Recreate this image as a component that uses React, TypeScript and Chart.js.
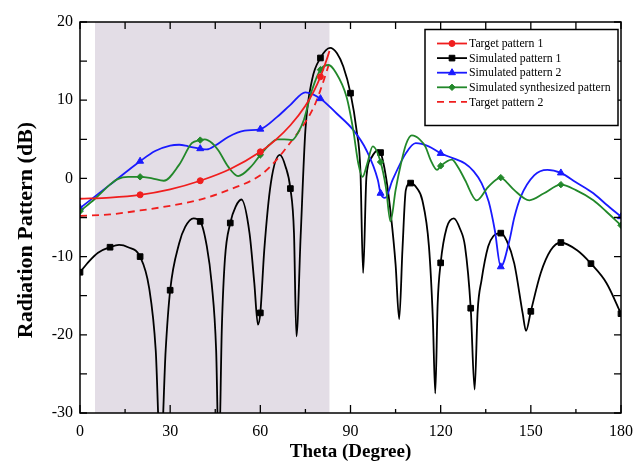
import React, { useEffect, useRef } from "react";
import { Chart, registerables } from "chart.js";
import { drawPoint } from "chart.js/helpers";

Chart.register(...registerables);

// ---------- data ----------
const xTickStep = 30;
const yTickStep = 10;
const xRange = [0, 180];
const yRange = [-30, 20];
const shadeRange = [5, 83];

const legendLabels = [
  "Target pattern 1",
  "Simulated pattern 1",
  "Simulated pattern 2",
  "Simulated synthesized pattern",
  "Target pattern 2",
];

// Target pattern 1 (red solid)
const target1Theta = [0, 10, 20, 30, 40, 50, 60, 65, 70, 75, 78, 80, 82, 83];
const target1Db = [-2.6, -2.45, -2.1, -1.4, -0.3, 1.2, 3.4, 4.9, 6.8, 9.3, 11.3, 13, 15.1, 16.3];
const target1Markers = [20, 40, 60, 80];

// Target pattern 2 (red dashed)
const target2Theta = [0, 10, 20, 30, 40, 50, 60, 65, 70, 75, 78, 80, 82, 83];
const target2Db = [-4.8, -4.6, -4.1, -3.5, -2.7, -1.4, 0.4, 2.2, 4.6, 7.2, 9.3, 11.3, 13.6, 14.8];

// Simulated pattern 1 (black)
const sim1Theta = [
  0, 3, 6, 10, 13, 16, 20, 23, 25.2, 26.8, 28.5, 30, 33, 35, 37.8, 40, 42.2, 43.8, 45.3, 46.2,
  47.2, 48.2, 50, 51.8, 53.7, 56.4, 58, 59.2, 60, 61.3, 63.5, 66.5, 68.4, 70, 71.2, 72, 73.4, 75,
  77.2, 80, 83.2, 85.5, 87.6, 90, 92, 93.3, 94.2, 95.3, 96.9, 99, 100, 101.8, 103.5, 105, 106.2,
  107.3, 108.4, 110, 112, 113.9, 116.1, 117.4, 118.2, 119, 120, 122, 124.4, 126.5, 128.1, 130,
  131.3, 132.3, 133.6, 135.8, 137.5, 140, 142, 144.5, 147.3, 148.4, 150, 153.3, 156.6, 160, 165.4,
  170, 175.2, 180,
];
const sim1Db = [
  -12, -10.6, -9.5, -8.8, -8.5, -8.8, -10, -14, -22, -36, -22, -14.3, -8.3, -6.2, -5.1, -5.5, -8.7,
  -13.4, -22, -36, -19, -10.4, -5.7, -3.6, -2.7, -7, -13.4, -18.7, -17.2, -9.2, -0.6, 3.0, 1.5, -1.3,
  -7, -20.2, -7.5, 6.2, 12.6, 15.4, 16.7, 16, 14.3, 10.9, 6.2, 1, -12.1, 0.2, 2.6, 3.6, 3.3, 0.2,
  -4.9, -11, -18, -9, -1.5, -0.6, -1.2, -2.8, -8.7, -18, -27.5, -16, -10.8, -6.3, -5.1, -6.5, -8.7,
  -16.6, -27, -17, -13, -8.7, -7.4, -7.0, -8.0, -10.9, -17.3, -19.5, -17, -12.1, -9.2, -8.2, -9.2,
  -10.9, -13.4, -17.3,
];
const sim1Markers = [0, 10, 20, 30, 40, 50, 60, 70, 80, 90, 100, 110, 120, 130, 140, 150, 160, 170, 180];

// Simulated pattern 2 (blue)
const sim2Theta = [
  0, 10, 20, 25, 30, 33, 36, 40, 42.2, 45, 49.3, 54.8, 60, 65.7, 70, 75, 80, 85.4, 90.9, 95.3,
  99.1, 100, 101.5, 104, 108.4, 111.7, 116, 120, 124, 128.1, 131, 133.6, 136, 138, 140, 142.9,
  144.5, 146.7, 151.1, 155.5, 160, 165, 170.8, 175, 180,
];
const sim2Db = [
  -3.8, -0.8, 2.2, 3.5, 4.2, 4.3, 4.1, 3.8, 3.7, 4.2, 5.3, 6.1, 6.3, 7.9, 9.4, 11.0, 10.2, 8.3,
  6.2, 3.6, -0.2, -1.9, -2.5, -0.2, 3.2, 4.5, 4.1, 3.2, 2.6, 1.9, 0.9, -0.6, -3, -6.6, -11.3,
  -7.9, -5, -2.3, 0.4, 1.1, 0.7, -0.5, -1.9, -3.3, -4.9,
];
const sim2Markers = [0, 20, 40, 60, 80, 100, 120, 140, 160, 180];

// Simulated synthesized pattern (green)
const synthTheta = [
  0, 5, 10, 12.5, 16, 20, 24, 27.9, 32.9, 37.2, 40, 41.5, 44, 46, 49.3, 52.6, 56.9, 60, 63, 65.7,
  68, 70.6, 72.5, 74.5, 77.2, 80, 82.7, 85, 88.7, 90.9, 92.6, 94, 95.5, 97.4, 100, 101.8, 103.3,
  105, 106.8, 108.5, 110.4, 113, 115, 116.6, 118.8, 120, 123.7, 126, 128.1, 132, 135.8, 140, 142,
  144.5, 149.5, 154.4, 160, 165, 170.8, 175, 180,
];
const synthDb = [
  -4.2, -2.6, -0.8, -0.1, 0.2, 0.2, 0.0, -0.3, 1.7, 4.5, 4.9, 5.0, 4.5, 3.6, 1.5, 0.3, 1.5, 3.0,
  4.3, 5.0, 5.0, 4.9, 5.8, 7.5, 11.3, 13.9, 14.5, 13.6, 10.4, 6.2, 1.9, 0.2, 1.8, 4.1, 2.1, -1.2,
  -5.5, -1.5, 1.9, 4.4, 5.5, 5.0, 4.0, 2.4, 1.1, 1.6, 2.4, 1.3, -0.2, -2.8, -1.1, 0.1, -0.5, -1.5,
  -2.8, -1.9, -0.8, -1.5, -2.8, -4.2, -6.0,
];
const synthMarkers = [0, 20, 40, 60, 80, 100, 120, 140, 160, 180];

// ---------- styles ----------
const RED = "#f01e1e";
const BLACK = "#000000";
const BLUE = "#1a1aff";
const GREEN = "#22882a";
const SHADE = "rgb(227,221,230)";
const FONT = "'Liberation Serif', 'Times New Roman', serif";

function series(
  label: string,
  xs: number[],
  ys: number[],
  markers: number[],
  color: string,
  pointStyle: any,
  radius: number,
  dash: number[] = []
) {
  const mk = new Set(markers);
  return {
    label,
    data: xs.map((x, i) => ({ x, y: ys[i] })),
    borderColor: color,
    backgroundColor: color,
    borderWidth: 1.8,
    borderDash: dash,
    pointStyle,
    pointRadius: (c: any) => (mk.has(xs[c.dataIndex]) ? radius : 0),
    pointHoverRadius: 0,
    pointBorderWidth: 1,
    pointBorderColor: color,
    pointBackgroundColor: color,
    cubicInterpolationMode: "monotone",
    fill: false,
  };
}

const legendStyles = [
  { color: RED, style: "circle", radius: 3, dash: [] as number[], marker: true },
  { color: BLACK, style: "rect", radius: 4, dash: [] as number[], marker: true },
  { color: BLUE, style: "triangle", radius: 4, dash: [] as number[], marker: true },
  { color: GREEN, style: "rectRot", radius: 3.2, dash: [] as number[], marker: true },
  { color: RED, style: "circle", radius: 0, dash: [7, 5], marker: false },
];

const decorPlugin = {
  id: "decor",
  beforeDatasetsDraw(chart: any) {
    const { ctx, chartArea: a, scales } = chart;
    const x0 = scales.x.getPixelForValue(shadeRange[0]);
    const x1 = scales.x.getPixelForValue(shadeRange[1]);
    ctx.save();
    ctx.fillStyle = SHADE;
    ctx.fillRect(x0, a.top, x1 - x0, a.bottom - a.top);
    ctx.restore();
  },
  afterDatasetsDraw(chart: any) {
    const { ctx, chartArea: a, scales } = chart;
    const xs = scales.x;
    const ys = scales.y;
    ctx.save();
    ctx.strokeStyle = "#000";
    ctx.lineWidth = 1.5;
    ctx.strokeRect(a.left, a.top, a.right - a.left, a.bottom - a.top);
    ctx.lineWidth = 1.3;
    ctx.beginPath();
    for (let v = xRange[0]; v <= xRange[1]; v += xTickStep / 2) {
      const px = xs.getPixelForValue(v);
      const major = v % xTickStep === 0;
      ctx.moveTo(px, a.bottom);
      ctx.lineTo(px, a.bottom - (major ? 8 : 4));
      ctx.moveTo(px, a.top);
      ctx.lineTo(px, a.top + 7);
    }
    for (let v = yRange[0]; v <= yRange[1]; v += yTickStep / 2) {
      const py = ys.getPixelForValue(v);
      ctx.moveTo(a.left, py);
      ctx.lineTo(a.left + 7, py);
      ctx.moveTo(a.right, py);
      ctx.lineTo(a.right - 7, py);
    }
    ctx.stroke();

    // axis titles
    ctx.fillStyle = "#000";
    ctx.font = `bold 19px ${FONT}`;
    ctx.textAlign = "center";
    ctx.textBaseline = "middle";
    ctx.fillText("Theta (Degree)", (a.left + a.right) / 2, 452);
    ctx.save();
    ctx.translate(26, 230);
    ctx.rotate(-Math.PI / 2);
    ctx.font = `bold 22px ${FONT}`;
    ctx.fillText("Radiation Pattern (dB)", 0, 0);
    ctx.restore();

    // legend
    const bx = 425, by = 29.5, bw = 193, bh = 96;
    ctx.fillStyle = "#fff";
    ctx.fillRect(bx, by, bw, bh);
    ctx.lineWidth = 1.5;
    ctx.strokeStyle = "#000";
    ctx.strokeRect(bx, by, bw, bh);
    ctx.font = `11.8px ${FONT}`;
    ctx.textAlign = "left";
    ctx.textBaseline = "middle";
    legendLabels.forEach((label, i) => {
      const st = legendStyles[i];
      const cy = by + 14 + i * 14.6;
      ctx.save();
      ctx.strokeStyle = st.color;
      ctx.lineWidth = 1.8;
      ctx.setLineDash(st.dash);
      ctx.beginPath();
      ctx.moveTo(437, cy);
      ctx.lineTo(467, cy);
      ctx.stroke();
      ctx.restore();
      if (st.marker) {
        ctx.save();
        ctx.fillStyle = st.color;
        ctx.strokeStyle = st.color;
        ctx.lineWidth = 1;
        drawPoint(ctx, { pointStyle: st.style, radius: st.radius, rotation: 0, borderWidth: 1 } as any, 452, cy);
        ctx.restore();
      }
      ctx.fillStyle = "#000";
      ctx.fillText(label, 469, cy + 0.5);
    });
    ctx.restore();
  },
};

export default function App() {
  const ref = useRef<HTMLCanvasElement>(null);
  useEffect(() => {
    const chart = new Chart(ref.current as HTMLCanvasElement, {
      type: "line",
      data: {
        datasets: [
          series(legendLabels[0], target1Theta, target1Db, target1Markers, RED, "circle", 3),
          series(legendLabels[3], synthTheta, synthDb, synthMarkers, GREEN, "rectRot", 3.2),
          series(legendLabels[2], sim2Theta, sim2Db, sim2Markers, BLUE, "triangle", 4),
          series(legendLabels[4], target2Theta, target2Db, [], RED, "circle", 0, [7, 5]),
          series(legendLabels[1], sim1Theta, sim1Db, sim1Markers, BLACK, "rect", 4),
        ] as any,
      },
      options: {
        animation: false,
        responsive: false,
        devicePixelRatio: 1,
        layout: { padding: { top: 22, right: 14, left: 0, bottom: 0 } },
        plugins: {
          legend: { display: false },
          tooltip: { enabled: false },
        },
        events: [],
        scales: {
          x: {
            type: "linear",
            min: xRange[0],
            max: xRange[1],
            grid: { display: false, drawTicks: false },
            border: { display: false },
            ticks: {
              stepSize: xTickStep,
              color: "#000",
              padding: 9,
              maxRotation: 0,
              font: { family: FONT, size: 16 },
            },
            afterFit: (s: any) => {
              s.height = 48;
            },
          },
          y: {
            type: "linear",
            min: yRange[0],
            max: yRange[1],
            grid: { display: false, drawTicks: false },
            border: { display: false },
            ticks: {
              stepSize: yTickStep,
              color: "#000",
              padding: 7,
              font: { family: FONT, size: 16 },
            },
            afterFit: (s: any) => {
              s.width = 80;
            },
          },
        },
      },
      plugins: [decorPlugin],
    });
    return () => chart.destroy();
  }, []);
  return (
    <div style={{ position: "fixed", left: 0, top: 0, width: 642, height: 461, background: "#fff" }}>
      <canvas ref={ref} width={642} height={461} style={{ display: "block", width: 642, height: 461 }} />
    </div>
  );
}
